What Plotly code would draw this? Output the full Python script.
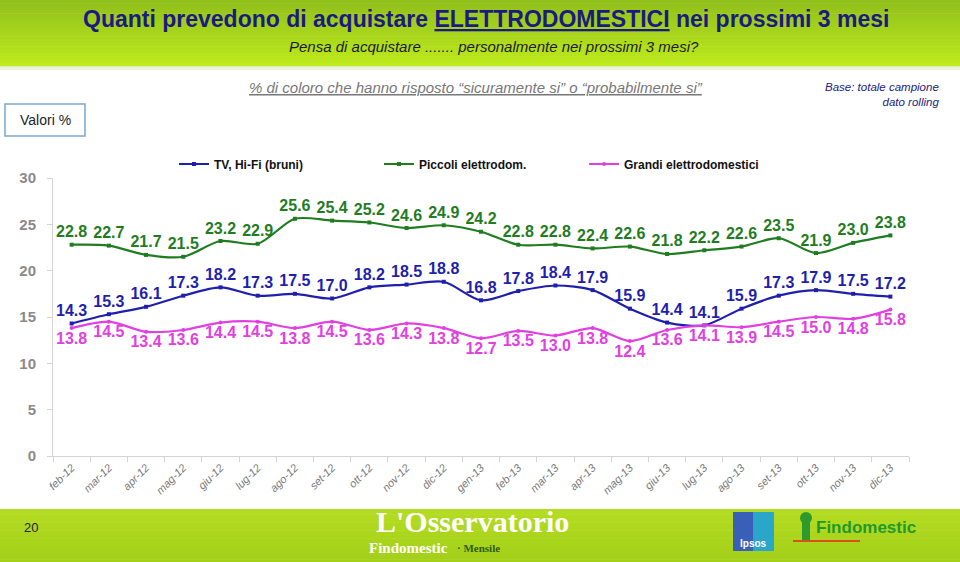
import plotly.graph_objects as go

months = ["feb-12", "mar-12", "apr-12", "mag-12", "giu-12", "lug-12", "ago-12", "set-12",
          "ott-12", "nov-12", "dic-12", "gen-13", "feb-13", "mar-13", "apr-13", "mag-13",
          "giu-13", "lug-13", "ago-13", "set-13", "ott-13", "nov-13", "dic-13"]
tv_hifi = [14.3, 15.3, 16.1, 17.3, 18.2, 17.3, 17.5, 17.0, 18.2, 18.5, 18.8, 16.8,
           17.8, 18.4, 17.9, 15.9, 14.4, 14.1, 15.9, 17.3, 17.9, 17.5, 17.2]
piccoli = [22.8, 22.7, 21.7, 21.5, 23.2, 22.9, 25.6, 25.4, 25.2, 24.6, 24.9, 24.2,
           22.8, 22.8, 22.4, 22.6, 21.8, 22.2, 22.6, 23.5, 21.9, 23.0, 23.8]
grandi = [13.8, 14.5, 13.4, 13.6, 14.4, 14.5, 13.8, 14.5, 13.6, 14.3, 13.8, 12.7,
          13.5, 13.0, 13.8, 12.4, 13.6, 14.1, 13.9, 14.5, 15.0, 14.8, 15.8]
y_ticks = [0, 5, 10, 15, 20, 25, 30]

W, H = 960, 562
L, R, T, B = 53, 909, 178, 456


def px(x):
    return (x - L) / (R - L)


def py(y):
    return (B - y) / (B - T)


FONT = "Liberation Sans, Arial, sans-serif"
BLUE = "#1f1fae"
GREEN = "#1f7d1f"
MAGENTA = "#e23fe2"

fig = go.Figure()
series = [
    ("TV, Hi-Fi (bruni)", tv_hifi, BLUE, "top center", "square"),
    ("Piccoli elettrodom.", piccoli, GREEN, "top center", "square"),
    ("Grandi elettrodomestici", grandi, MAGENTA, "bottom center", "circle"),
]
for name, vals, col, pos, sym in series:
    fig.add_trace(go.Scatter(
        x=months, y=vals, name=name, mode="lines+markers+text",
        line=dict(color=col, width=2.2, shape="spline", smoothing=0.8),
        marker=dict(color=col, size=4, symbol=sym),
        text=[f"{v:.1f}" for v in vals], textposition=pos,
        textfont=dict(family=FONT, size=16, color=col, weight="bold"),
        cliponaxis=False,
    ))

shapes = []
annotations = []

# header gradient
top_c = (0x92, 0xc0, 0x1a)
bot_c = (0xbe, 0xea, 0x1e)
n = 20
hdr_h = 66
for i in range(n):
    t = i / (n - 1)
    c = tuple(int(top_c[k] + (bot_c[k] - top_c[k]) * t) for k in range(3))
    y0 = hdr_h * i / n
    y1 = hdr_h * (i + 1) / n + 0.5
    shapes.append(dict(type="rect", xref="paper", yref="paper", x0=px(0), x1=px(W),
                       y0=py(y0), y1=py(y1), fillcolor="rgb(%d,%d,%d)" % c,
                       line=dict(width=0), layer="below"))
shapes.append(dict(type="rect", xref="paper", yref="paper", x0=px(0), x1=px(W),
                   y0=py(66), y1=py(70), fillcolor="rgba(220,235,200,0.6)",
                   line=dict(width=0), layer="below"))

# footer gradient
ft_top = (0xb4, 0xdc, 0x22)
ft_bot = (0xa4, 0xd0, 0x1a)
for i in range(n):
    t = i / (n - 1)
    c = tuple(int(ft_top[k] + (ft_bot[k] - ft_top[k]) * t) for k in range(3))
    y0 = 509 + (H - 509) * i / n
    y1 = 509 + (H - 509) * (i + 1) / n + 0.5
    shapes.append(dict(type="rect", xref="paper", yref="paper", x0=px(0), x1=px(W),
                       y0=py(y0), y1=py(y1), fillcolor="rgb(%d,%d,%d)" % c,
                       line=dict(width=0), layer="below"))

# Valori % box
shapes.append(dict(type="rect", xref="paper", yref="paper", x0=px(5), x1=px(85),
                   y0=py(104), y1=py(136), fillcolor="white",
                   line=dict(color="#7aa6d2", width=1.5)))
annotations.append(dict(text="Valori %", x=px(45), y=py(120), xref="paper", yref="paper",
                        showarrow=False, font=dict(family=FONT, size=14, color="#222"),
                        xanchor="center", yanchor="middle"))

# Titles
annotations.append(dict(
    text="<b>Quanti prevedono di acquistare <u>ELETTRODOMESTICI</u> nei prossimi 3 mesi</b>",
    x=px(486), y=py(19), xref="paper", yref="paper", showarrow=False,
    font=dict(family=FONT, size=23, color="#1a1a80"), xanchor="center", yanchor="middle"))
annotations.append(dict(
    text="<i>Pensa di acquistare ....... personalmente nei prossimi 3 mesi?</i>",
    x=px(494), y=py(46), xref="paper", yref="paper", showarrow=False,
    font=dict(family=FONT, size=15, color="#1a1a1a"), xanchor="center", yanchor="middle"))
annotations.append(dict(
    text="<i><u>% di coloro che hanno risposto “sicuramente si” o “probabilmente si”</u></i>",
    x=px(476), y=py(87), xref="paper", yref="paper", showarrow=False,
    font=dict(family=FONT, size=15, color="#777777"), xanchor="center", yanchor="middle"))
annotations.append(dict(
    text="<i>Base: totale campione<br>dato rolling</i>",
    x=px(941), y=py(94), xref="paper", yref="paper", showarrow=False, align="right",
    font=dict(family=FONT, size=11.5, color="#1a1a80"), xanchor="right", yanchor="middle"))

# Footer
annotations.append(dict(text="20", x=px(31), y=py(527), xref="paper", yref="paper",
                        showarrow=False, font=dict(family=FONT, size=13, color="#222"),
                        xanchor="center", yanchor="middle"))
annotations.append(dict(text="<b>L'Osservatorio</b>", x=px(472), y=py(521), xref="paper",
                        yref="paper", showarrow=False,
                        font=dict(family="Liberation Serif, serif", size=30, color="white"),
                        xanchor="center", yanchor="middle"))
annotations.append(dict(text="<b>Findomestic</b>", x=px(367), y=py(548), xref="paper",
                        yref="paper", showarrow=False,
                        font=dict(family="Liberation Serif, serif", size=15, color="white"),
                        xanchor="left", yanchor="middle"))
annotations.append(dict(text="<b>· Mensile</b>", x=px(455), y=py(548), xref="paper",
                        yref="paper", showarrow=False,
                        font=dict(family="Liberation Serif, serif", size=11, color="#2e5a10"),
                        xanchor="left", yanchor="middle"))
shapes.append(dict(type="rect", xref="paper", yref="paper", x0=px(733), x1=px(774),
                   y0=py(512), y1=py(551), fillcolor="#3a5fb8", line=dict(width=0)))
shapes.append(dict(type="rect", xref="paper", yref="paper", x0=px(753), x1=px(774),
                   y0=py(512), y1=py(551), fillcolor="#2aa6c8", line=dict(width=0)))
annotations.append(dict(text="<b>Ipsos</b>", x=px(753), y=py(543), xref="paper", yref="paper",
                        showarrow=False, font=dict(family=FONT, size=10, color="white"),
                        xanchor="center", yanchor="middle"))
shapes.append(dict(type="circle", xref="paper", yref="paper", x0=px(800), x1=px(812),
                   y0=py(512), y1=py(524), fillcolor="#2e9a2e", line=dict(width=0)))
shapes.append(dict(type="rect", xref="paper", yref="paper", x0=px(802), x1=px(810),
                   y0=py(523), y1=py(541), fillcolor="#2e9a2e", line=dict(width=0)))
shapes.append(dict(type="line", xref="paper", yref="paper", x0=px(793), x1=px(860),
                   y0=py(541), y1=py(541), line=dict(color="#d8501a", width=2)))
annotations.append(dict(text="<b>Findomestic</b>", x=px(866), y=py(527), xref="paper",
                        yref="paper", showarrow=False,
                        font=dict(family=FONT, size=17, color="#1f9a2a"),
                        xanchor="center", yanchor="middle"))

fig.update_layout(
    width=W, height=H,
    margin=dict(l=L, r=W - R, t=T, b=H - B),
    paper_bgcolor="white", plot_bgcolor="white",
    showlegend=True,
    legend=dict(orientation="h", x=px(174), y=py(164), xanchor="left", yanchor="middle",
                font=dict(family=FONT, size=12, color="#111", weight="bold"),
                entrywidth=160, entrywidthmode="pixels", itemwidth=30,
                bgcolor="rgba(0,0,0,0)"),
    shapes=shapes, annotations=annotations,
    xaxis=dict(type="category", range=[-0.5, 22.5], showgrid=False, showline=True,
               linecolor="#d4d4d4", linewidth=1, ticks="outside", tickson="boundaries",
               ticklen=5, tickcolor="#d4d4d4", tickangle=-45,
               tickfont=dict(family=FONT, size=11, color="#7a7a7a", style="italic"),
               fixedrange=True),
    yaxis=dict(range=[0, 30], tickvals=y_ticks, showgrid=False, showline=True,
               linecolor="#d4d4d4", linewidth=1, ticks="outside", ticklen=5,
               tickcolor="#d4d4d4", zeroline=False, ticklabelstandoff=8,
               tickfont=dict(family=FONT, size=15, color="#8a8a8a", weight="bold")),
)

fig.write_html("out.html")
